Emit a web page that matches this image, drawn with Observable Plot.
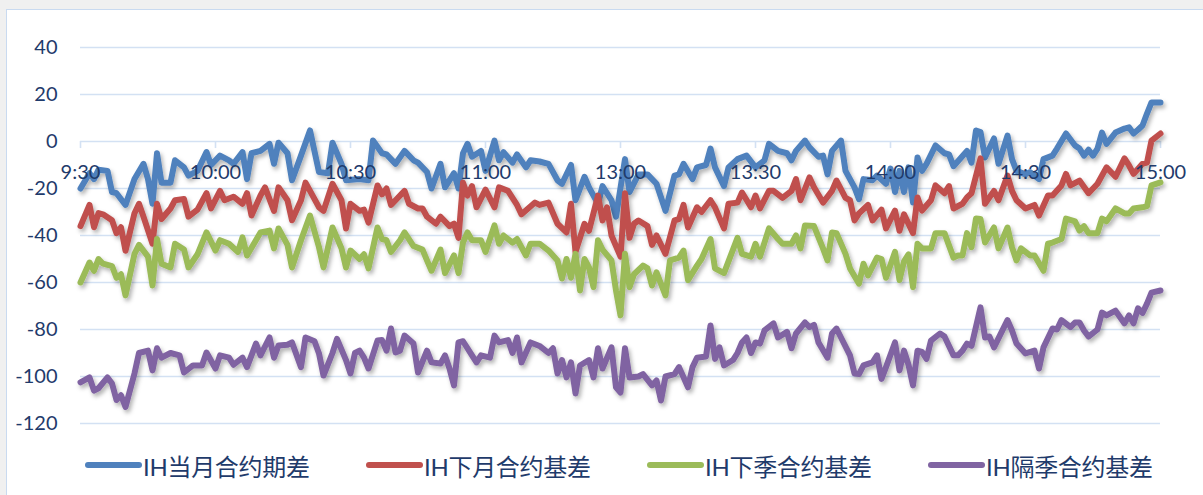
<!DOCTYPE html>
<html>
<head>
<meta charset="utf-8">
<script src="https://cdn.jsdelivr.net/npm/d3@7"></script>
<script src="https://cdn.jsdelivr.net/npm/@observablehq/plot@0.6"></script>
<style>
  html, body { margin: 0; padding: 0; }
  body { width: 1203px; height: 495px; position: relative; overflow: hidden; background: #f0f0f0; font-family: Lato, "Noto Sans CJK SC", sans-serif; }
  #frame { position: absolute; left: 6px; top: 9px; width: 1220px; height: 520px; background: #fff; border: 1px solid #c9daf0; }
  #chart svg { position: absolute; left: 0; top: 0; overflow: visible; }
  #legend { position: absolute; left: 85px; top: 449px; display: flex; }
  .item { width: 281px; display: flex; align-items: center; height: 32px; }
  .swatch { width: 57px; height: 6px; border-radius: 3px; margin-right: 1px; }
  .label { font-family: Lato, "Noto Sans CJK SC", sans-serif; font-size: 24px; color: #1f3b6b; letter-spacing: -0.3px; }
</style>
</head>
<body>
<div id="frame"></div>
<div id="chart"></div>
<div id="legend"></div>
<script>
// IH futures basis, intraday, as [trading minute since 9:30, basis points]
const current = [[0,-20],[2,-13.5],[3,-16],[4,-12],[6,-12.5],[7,-21.5],[8,-22],[10,-27],[12,-16],[14,-9.5],[15,-16],[16,-26.5],[17,-5],[18,-17.5],[20,-17.5],[21,-8],[23,-11],[24,-14.5],[26,-12.5],[28,-4.5],[29,-10],[31,-6],[33,-8],[34,-9.5],[36,-4.5],[37,-16],[38,-5],[40,-4],[42,-1],[43,-9.5],[44,-0.5],[46,-5],[47,-16.5],[49,-6],[51,4.7],[53,-13],[55,-13.5],[56,-0.5],[58,-9.5],[59,-16.5],[62,-16],[64,-16.5],[65,0.4],[67,-5],[68,-5.5],[70,-9.5],[72,-4],[74,-8],[75,-9],[77,-13],[78,-20],[80,-9.5],[81,-19.5],[83,-13.5],[84,-20],[85,-5],[86,-1],[87,-6.5],[89,-4],[90,-12.5],[92,0.4],[93,-8],[94,-4.5],[96,-9],[97,-5.5],[99,-11],[100,-8],[102,-8.5],[104,-9.5],[106,-16.5],[107,-18],[109,-10],[110,-25],[112,-15],[113,-19.5],[115,-26.5],[116,-19],[118,-25],[119,-32],[121,-7.5],[122,-21.5],[124,-14],[126,-14],[128,-18],[130,-29.5],[132,-14.5],[133,-14],[134,-9.5],[136,-16],[137,-11],[139,-10],[140,-3],[141,-11],[143,-19],[144,-11],[146,-7.5],[148,-6],[150,-11],[152,-8],[153,-1],[155,-4],[157,-5],[158,-8],[159,-4],[161,0.4],[162,-2.5],[164,-6.5],[165,-6],[166,-14],[167,-4],[169,0.4],[170,-12.5],[172,-19.5],[173,-24.5],[174,-16],[176,-16.5],[177,-14.5],[179,-18],[180,-11.5],[181,-21.5],[182,-12.5],[183,-21.5],[184,-11],[185,-26],[186,-6.8],[187,-12.5],[188,-9.5],[190,-1.7],[192,-5],[193,-5.5],[194,-10.5],[197,-4],[198,-9],[199,4.7],[200,4],[201,-6.8],[203,1.3],[204,-9.5],[206,2.5],[207,-7.5],[208,-12.5],[210,-14],[211,-13],[213,-16],[214,-7.5],[216,-6],[217,-3],[219,3.4],[221,-1.7],[222,-3],[223,-6],[224,-3.5],[225,-6],[226,-3],[227,3.8],[228,-1],[230,3.8],[232,5.5],[233,6],[234,3.4],[235,5],[236,6.8],[237,11.9],[238,16.6],[240,16.6]];

const nextMonth = [[0,-36],[2,-27],[3,-36.5],[4,-30.5],[5,-31],[7,-33.5],[8,-39],[9,-36.5],[10,-46.5],[12,-30.5],[13,-26.5],[14,-32],[16,-43.5],[17,-26.5],[18,-33],[20,-28.5],[21,-25],[23,-24.5],[24,-32],[26,-29],[28,-22],[29,-28.5],[31,-21],[32,-25],[34,-23.5],[36,-26.5],[37,-22],[38,-31.5],[40,-23],[41,-19.5],[43,-29.5],[44,-19.5],[46,-25],[47,-33.5],[49,-25],[50,-17.5],[53,-28],[54,-29.5],[56,-18],[58,-25],[59,-37],[60,-26.5],[62,-29.5],[63,-29],[64,-34.5],[66,-18.7],[67,-22.5],[68,-20],[69,-27],[72,-21],[73,-26.5],[75,-28.5],[76,-28.5],[77,-32],[79,-35],[80,-32],[82,-36],[83,-35],[84,-41],[85,-17.5],[86,-23],[87,-19],[88,-28],[90,-20.5],[92,-28],[93,-19.5],[95,-21],[97,-27],[98,-31],[101,-26],[102,-27],[104,-26],[106,-35],[108,-38.7],[109,-26.5],[110,-47],[112,-35],[113,-38],[115,-23],[116,-33.6],[117,-28],[118,-40],[120,-49],[121,-22],[122,-41],[123,-35],[124,-33.6],[126,-36],[127,-44],[128,-40],[130,-47.8],[132,-33.6],[133,-33],[134,-27],[135,-36.6],[137,-28],[138,-30],[140,-25],[141,-28],[143,-37],[144,-26.5],[146,-26],[147,-21.7],[149,-28],[150,-23],[151,-28.5],[153,-21],[154,-21],[156,-24],[158,-21],[159,-16],[160,-25],[162,-15.3],[163,-19.5],[165,-26],[167,-21],[168,-16.6],[170,-24],[171,-25],[172,-33.6],[173,-30.6],[175,-27],[176,-33.6],[178,-29],[179,-37],[181,-29.4],[182,-38],[183,-31],[185,-39],[186,-23.8],[187,-29.4],[189,-25],[190,-18.7],[192,-22],[193,-19],[194,-28.5],[196,-26.5],[197,-23.8],[198,-22],[200,-7.2],[201,-26.5],[203,-21],[204,-25],[206,-14.5],[207,-21],[208,-25],[210,-28.5],[212,-27],[213,-31.5],[215,-23],[216,-23],[218,-18.7],[219,-13.8],[220,-18.7],[222,-16.6],[224,-22],[225,-20],[226,-18],[228,-11],[230,-15],[232,-7.2],[233,-10.2],[234,-13.8],[236,-9.5],[237,-9],[238,0.4],[240,3.4]];

const nextQuarter = [[0,-60],[2,-51.5],[3,-55],[4,-50],[5,-52],[7,-53],[8,-58],[9,-56.5],[10,-65.5],[12,-47.8],[13,-44],[15,-49],[16,-61.3],[17,-41.5],[18,-52],[20,-53.6],[21,-43.5],[23,-46],[24,-53.6],[26,-48],[28,-38.7],[30,-46.4],[31,-42],[33,-43.5],[35,-47],[36,-40.8],[37,-48.5],[40,-38.7],[42,-37.9],[43,-45.5],[44,-37],[46,-44],[47,-53.6],[49,-42],[51,-31.5],[53,-45],[54,-53.6],[56,-36.6],[58,-45.5],[59,-53.6],[60,-46.4],[62,-50],[63,-48],[64,-54],[66,-36.6],[67,-41.5],[68,-42],[69,-47],[71,-42],[72,-38.7],[74,-44.5],[76,-46],[77,-50.6],[78,-55],[80,-46],[81,-56],[83,-48.5],[84,-56],[85,-43],[86,-38.7],[87,-42],[89,-42],[90,-47],[92,-35.7],[93,-43.5],[94,-40],[96,-43],[97,-41.5],[99,-48.5],[100,-43.5],[102,-43.5],[104,-46.4],[106,-50.6],[107,-58.3],[108,-50],[109,-58],[110,-47.8],[111,-63.4],[112,-50],[113,-53.6],[114,-62],[115,-42],[116,-46],[118,-50.6],[119,-63.4],[120,-74],[121,-47.8],[122,-62],[123,-56.5],[125,-52.8],[126,-54],[127,-61.3],[128,-55.7],[130,-65.5],[131,-50.6],[133,-49.4],[134,-46.4],[135,-59],[137,-52.8],[138,-50],[140,-41.5],[141,-54],[143,-56],[144,-51],[146,-41],[147,-47.8],[149,-49],[150,-43.5],[151,-49],[153,-37],[155,-41.5],[156,-43.5],[158,-43.5],[159,-40],[160,-45.5],[161,-35.7],[163,-36],[165,-45.5],[166,-50.6],[167,-38.7],[168,-39],[170,-47.8],[171,-54],[173,-60.5],[174,-52],[175,-57],[177,-49.4],[178,-50],[179,-58],[181,-47],[182,-59],[183,-51],[184,-48],[185,-62],[186,-43.5],[187,-45.5],[189,-45.5],[190,-39],[192,-39],[194,-49.4],[195,-48.5],[196,-48.5],[197,-39],[198,-45],[199,-32.8],[200,-33],[201,-43],[203,-36.6],[204,-45.5],[206,-36.6],[207,-45],[208,-50.6],[209,-45.5],[211,-48.5],[212,-48.5],[214,-55],[215,-43.5],[216,-43],[218,-41.5],[219,-32.8],[221,-34],[222,-37.9],[223,-36],[224,-39],[226,-39],[227,-32.8],[228,-34],[230,-28.5],[232,-30.6],[233,-30.6],[234,-28.5],[236,-28],[237,-27.5],[238,-18.7],[240,-17.4]];

const farQuarter = [[0,-102.5],[2,-100.4],[3,-106],[4,-105],[6,-100.4],[7,-103],[8,-110],[9,-108],[10,-113],[12,-98.7],[13,-90],[15,-89],[16,-97.4],[17,-88],[18,-92],[20,-90],[22,-91],[23,-98.3],[25,-95.3],[27,-95.3],[28,-89.8],[30,-96.6],[31,-91],[33,-92],[34,-95],[36,-92],[37,-96],[39,-86],[40,-91],[42,-83.4],[43,-92],[44,-86.8],[46,-86.5],[47,-85.5],[49,-96],[50,-83.4],[52,-85],[53,-90.2],[54,-99.6],[56,-90],[57,-84],[59,-93],[60,-98.7],[61,-90],[62,-89],[63,-92],[64,-96.6],[66,-84.7],[67,-84.5],[68,-89],[69,-79.6],[70,-89.8],[71,-89],[72,-82.6],[74,-86],[75,-98.3],[77,-89],[78,-94],[80,-94.5],[81,-91],[82,-96.6],[83,-103.8],[84,-85.5],[85,-85],[87,-91],[88,-94],[89,-91],[91,-92],[92,-82.6],[93,-85.5],[95,-84.5],[96,-90],[97,-83.4],[98,-94],[100,-85.5],[102,-87],[104,-90],[105,-88],[106,-98.7],[107,-93],[108,-100.4],[109,-94],[110,-107.2],[111,-95.3],[113,-93],[114,-100.4],[115,-88],[116,-96.6],[118,-87.6],[119,-104.6],[120,-106.8],[121,-88],[122,-100.4],[124,-100],[125,-99],[127,-103.8],[128,-101.7],[129,-110.2],[130,-100],[132,-99],[133,-96],[135,-104.6],[136,-96],[137,-92],[139,-91.5],[140,-78.3],[141,-92.5],[142,-87.6],[143,-95.3],[145,-93],[146,-90],[147,-85.5],[148,-83.4],[149,-90],[150,-85.5],[151,-86],[152,-80.4],[154,-77.4],[155,-83.4],[157,-81],[158,-88],[159,-81.7],[161,-77],[162,-79],[163,-78],[164,-85.5],[166,-92],[167,-81.7],[168,-79.6],[169,-83.4],[171,-91],[172,-98.7],[173,-99],[174,-95.3],[176,-94],[177,-91],[178,-101],[179,-96],[181,-85.5],[182,-97.4],[183,-89],[184,-95],[185,-103.8],[186,-89],[187,-89.5],[188,-92.5],[189,-84.7],[191,-81.7],[192,-83],[194,-91],[195,-91],[196,-89],[197,-86],[198,-87],[200,-70.6],[201,-83.4],[202,-83],[203,-87.6],[206,-76],[207,-80.4],[208,-86],[210,-90.2],[212,-89],[213,-96.6],[214,-87.6],[216,-79.6],[217,-80],[218,-76],[220,-79],[221,-77],[222,-77],[223,-80.4],[224,-83],[226,-80],[227,-72.8],[228,-74],[230,-72],[232,-77.4],[233,-74],[234,-77.4],[235,-71],[236,-73],[237,-69],[238,-64.3],[240,-63.4]];

const seriesNames = ["IH当月合约期差", "IH下月合约基差", "IH下季合约基差", "IH隔季合约基差"];
const seriesColors = ["#4f81bd", "#c0504d", "#9bbb59", "#8064a2"];
const seriesData = [current, nextMonth, nextQuarter, farQuarter];

const timeTicks = [0, 30, 60, 90, 120, 150, 180, 210, 240];
const timeLabels = ["9:30", "10:00", "10:30", "11:00", "13:00", "13:30", "14:00", "14:30", "15:00"];
const yTicks = [-120, -100, -80, -60, -40, -20, 0, 20, 40];

const grid = "#d3e1f3";
const ink = "#1f3b6b";

const lines = seriesData.map((rows, i) =>
  Plot.line(rows.map(([m, v]) => ({m, v})), {
    x: "m", y: "v", stroke: seriesColors[i], strokeWidth: 6,
    strokeLinejoin: "round", strokeLinecap: "round"
  })
);

const chart = Plot.plot({
  width: 1203,
  height: 440,
  marginLeft: 80,
  marginRight: 43,
  marginTop: 47,
  marginBottom: 17,
  style: {fontFamily: "Lato, 'Noto Sans CJK SC', sans-serif", background: "transparent", overflow: "visible"},
  x: {domain: [0, 240], axis: null},
  y: {domain: [-120, 40], axis: null},
  marks: [
    Plot.gridY(yTicks, {stroke: grid, strokeOpacity: 1, strokeWidth: 1.6}),
    Plot.ruleX(timeTicks, {x: d => d, y1: 0, y2: -3, stroke: grid, strokeWidth: 1.6}),
    Plot.text(yTicks, {y: d => d, frameAnchor: "left", dx: -23, textAnchor: "end", text: d => String(d), fontSize: 20, fill: ink}),
    ...lines,
    Plot.text(timeTicks, {x: d => d, y: 0, dy: 31, text: (d, i) => timeLabels[i], fontSize: 20, fill: ink})
  ]
});

// soft drop shadow under the series lines
const ns = "http://www.w3.org/2000/svg";
const defs = document.createElementNS(ns, "defs");
const filter = document.createElementNS(ns, "filter");
filter.setAttribute("id", "line-shadow");
filter.setAttribute("x", "-5%");
filter.setAttribute("y", "-20%");
filter.setAttribute("width", "110%");
filter.setAttribute("height", "140%");
const shadow = document.createElementNS(ns, "feDropShadow");
shadow.setAttribute("dx", "2");
shadow.setAttribute("dy", "3");
shadow.setAttribute("stdDeviation", "2");
shadow.setAttribute("flood-color", "#000");
shadow.setAttribute("flood-opacity", "0.3");
filter.appendChild(shadow);
defs.appendChild(filter);
chart.insertBefore(defs, chart.firstChild);
chart.querySelectorAll('g[aria-label="line"]').forEach(g => g.setAttribute("filter", "url(#line-shadow)"));

document.getElementById("chart").appendChild(chart);

const legend = document.getElementById("legend");
seriesNames.forEach((name, i) => {
  const item = document.createElement("div");
  item.className = "item";
  const sw = document.createElement("div");
  sw.className = "swatch";
  sw.style.background = seriesColors[i];
  const lab = document.createElement("span");
  lab.className = "label";
  lab.textContent = name;
  item.appendChild(sw);
  item.appendChild(lab);
  legend.appendChild(item);
});
</script>
</body>
</html>
